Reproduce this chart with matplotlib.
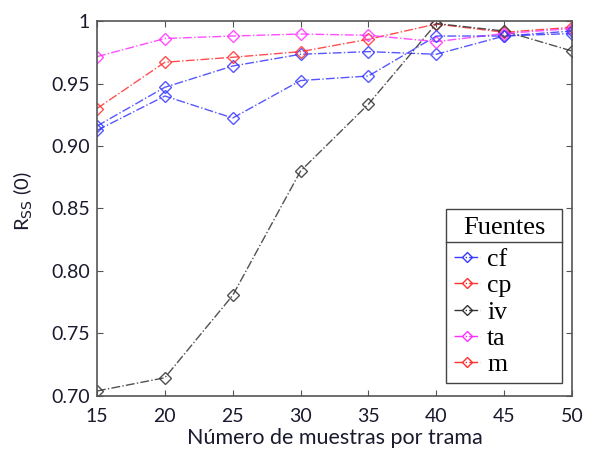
import numpy as np
import matplotlib.pyplot as plt
from matplotlib.lines import Line2D

# muestras por trama
x = np.array([15, 20, 25, 30, 35, 40, 45, 50])

cf = np.array([0.916, 0.947, 0.964, 0.9734, 0.9755, 0.9734, 0.988, 0.990])
cp = np.array([0.930, 0.967, 0.971, 0.9755, 0.9854, 0.9976, 0.991, 0.995])
iv = np.array([0.704, 0.7146, 0.7805, 0.880, 0.9335, 0.998, 0.992, 0.976])
ta = np.array([0.9715, 0.986, 0.988, 0.9896, 0.9886, 0.9835, 0.990, 0.994])
m = np.array([0.9125, 0.940, 0.9224, 0.9524, 0.956, 0.988, 0.988, 0.992])

series = [cf, cp, iv, ta, m]
names = ['cf', 'cp', 'iv', 'ta', 'm']
line_colors = ['#3a3aff', '#ff3030', '#333333', '#ff30ff', '#3a3aff']
legend_colors = ['#3a3aff', '#ff3030', '#333333', '#ff30ff', '#ff3030']

fig = plt.figure(figsize=(5.9, 4.54), dpi=100)
ax = fig.add_axes([0.1644, 0.1278, 0.8051, 0.8259])

for y, c in zip(series, line_colors):
    ax.plot(x, y, color=c, linestyle='-.', linewidth=1.0, marker='D',
            markersize=6, markerfacecolor='none', markeredgecolor=c,
            markeredgewidth=1.0, alpha=0.85)

ax.set_xlim(15, 50)
ax.set_ylim(0.70, 1.0)
ax.set_xticks(x)
ax.set_yticks([0.70, 0.75, 0.80, 0.85, 0.90, 0.95, 1.0])
ax.set_yticklabels(['0.70', '0.75', '0.80', '0.85', '0.90', '0.95', '1'])
ax.tick_params(direction='in', top=True, right=True, length=4,
               color='#555555', labelsize=14, labelcolor='#1a1a2e')
ax.tick_params(axis='x', pad=9)
ax.tick_params(axis='y', pad=5)
for lab in ax.get_xticklabels() + ax.get_yticklabels():
    lab.set_family('Lato')
for s in ax.spines.values():
    s.set_color('#555555')
    s.set_linewidth(1.2)

ax.set_xlabel('Número de muestras por trama', fontsize=15.5, family='Lato',
              color='#1a1a2e', labelpad=2)
ax.set_ylabel('R$_{\\mathrm{SS}}$ (0)', fontsize=14.5, family='Lato',
              color='#1a1a2e')
ax.yaxis.set_label_coords(-0.13, 0.52)

handles = [Line2D([], [], color=c, linestyle='-.', linewidth=1.0, marker='D',
                  markersize=5, markerfacecolor='none', markeredgecolor=c)
           for c in legend_colors]
leg = ax.legend(handles, names, title='Fuentes', loc='upper left',
                bbox_to_anchor=(0.735, 0.0347, 0.244, 0.464), mode='expand',
                borderaxespad=0, frameon=True, fancybox=False,
                edgecolor='#444444', framealpha=1, handlelength=1.0,
                handletextpad=0.3, labelspacing=0.12, borderpad=0.3,
                prop={'family': 'Liberation Serif', 'size': 18.5})
leg.get_title().set_fontfamily('Liberation Serif')
leg.get_title().set_fontsize(19)
leg.get_frame().set_linewidth(1.0)
leg._legend_box.sep = 7

# linea bajo el titulo de la leyenda
fig.canvas.draw()
inv = fig.transFigure.inverted()
lb = leg.get_frame().get_window_extent()
tb = leg.get_title().get_window_extent()
ymid = tb.y0 - 3
(x0, yl), (x1, _) = inv.transform([(lb.x0, ymid), (lb.x1, ymid)])
fig.add_artist(Line2D([x0, x1], [yl, yl], color='#444444', linewidth=1.0,
                      transform=fig.transFigure))

fig.savefig('out.png', dpi=100)
